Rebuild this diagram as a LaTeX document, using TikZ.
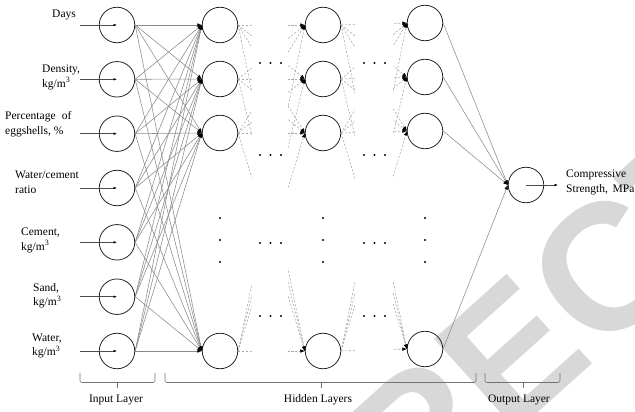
\documentclass[tikz,border=0pt]{standalone}
\usepackage{fontspec}
\setmainfont{Liberation Serif}
\newfontfamily\wmfont{Liberation Sans}
\usetikzlibrary{arrows.meta}
\definecolor{linkgray}{HTML}{8A8A8A}
\definecolor{dashgray}{HTML}{A8A8A8}
\definecolor{markgray}{HTML}{D8D8D8}
\begin{document}
\begin{tikzpicture}[x=1pt,y=-1pt,
  neuron/.style={circle,draw=black!85,line width=0.8pt,minimum size=35.5pt,inner sep=0pt},
  lbl/.style={anchor=west,inner sep=0pt,align=left,font=\fontsize{11.5}{14.5}\selectfont},
  layerlbl/.style={inner sep=0pt,font=\fontsize{11.5}{14}\selectfont},
  tip/.style={-{Latex[length=4.5pt,width=3.6pt,color=black]}},
  smalltip/.style={-{Latex[length=3.5pt,width=2.6pt,color=black]}},
  link/.style={draw=linkgray,line width=0.55pt,tip},
  dlink/.style={draw=dashgray,line width=0.55pt,dash pattern=on 2.2pt off 1.6pt,tip},
  feed/.style={draw=black!70,line width=0.6pt,smalltip},
  brace/.style={draw=black!55,line width=0.6pt,rounded corners=2pt},
  dot/.style={circle,fill=black,inner sep=0pt,minimum size=2.2pt},
  wmtext/.style={text=markgray,font=\wmfont\bfseries\fontsize{180}{180}\selectfont,rotate=42,inner sep=0pt}
]
\useasboundingbox (0,0) rectangle (635,412);

% background watermark lettering
\begin{scope}
  \clip (0,0) rectangle (635,412);
  \node[wmtext] (wm) at (553,316) {RECT};
\end{scope}

% input layer
\foreach \i/\y in {1/25,2/79.3,3/133.7,4/188,5/242.3,6/296.7,7/351}{
  \node[neuron] (i\i) at (117,\y) {};
  \coordinate (f\i) at (80,\y);
  \draw[feed] (f\i) -- (i\i.center);
}

% hidden layers
\foreach \k/\y in {1/25,2/79,3/133,4/351}{
  \node[neuron] (a\k) at (220,\y) {};
  \node[neuron] (b\k) at (323,\y) {};
}
\foreach \k/\y in {1/23,2/77,3/131,4/349}{
  \node[neuron] (c\k) at (425,\y) {};
}

% output layer
\node[neuron] (out) at (526,185) {};
\coordinate (res) at (558,185);
\draw[feed] (out.center) -- (res);

% input -> first hidden layer
\foreach \i in {1,...,7}{
  \foreach \k in {1,...,4}{
    \draw[link] (i\i.east) -- (a\k.west);
  }
}

% last hidden layer -> output
\foreach \k in {1,...,4}{
  \draw[link] (c\k.east) -- (out.west);
}

% interrupted links between the hidden layers
\begin{scope}
  \clip (230,0) rectangle (251.5,412);
  \foreach \k in {1,...,4}{\foreach \m in {1,...,4}{\draw[dlink] (a\k.east) -- (b\m.west);}}
\end{scope}
\begin{scope}
  \clip (288,0) rectangle (315,412);
  \foreach \k in {1,...,4}{\foreach \m in {1,...,4}{\draw[dlink] (a\k.east) -- (b\m.west);}}
\end{scope}
\begin{scope}
  \clip (333,0) rectangle (355,412);
  \foreach \k in {1,...,4}{\foreach \m in {1,...,4}{\draw[dlink] (b\k.east) -- (c\m.west);}}
\end{scope}
\begin{scope}
  \clip (393,0) rectangle (417,412);
  \foreach \k in {1,...,4}{\foreach \m in {1,...,4}{\draw[dlink] (b\k.east) -- (c\m.west);}}
\end{scope}

% vertical ellipses
\foreach \x/\n in {220/a,323/b,425/c}{
  \foreach \y/\j in {218/1,240/2,262/3}{
    \node[dot] (v\n\j) at (\x,\y) {};
  }
}
% horizontal ellipses
\foreach \y/\r in {63/1,155/2,243/3,316/4}{
  \foreach \x/\j in {260/1,270.5/2,281/3}{\node[dot] (p\r\j) at (\x,\y) {};}
  \foreach \x/\j in {364/1,374.5/2,385/3}{\node[dot] (q\r\j) at (\x,\y) {};}
}

% input labels
\node[lbl] (t1) at (52,15) {Days};
\node[lbl] (t2) at (42,77.5) {Density,\\kg/m\textsuperscript{3}};
\node[lbl] (t3) at (5,124) {Percentage\hspace{0.55em}of\\eggshells, \%};
\node[lbl] (t4) at (15,182.5) {Water/cement\\ratio};
\node[lbl] (t5) at (21,240.5) {Cement,\\kg/m\textsuperscript{3}};
\node[lbl] (t6) at (33,295.5) {Sand,\\kg/m\textsuperscript{3}};
\node[lbl] (t7) at (32,346) {Water,\\kg/m\textsuperscript{3}};
\node[lbl] (t8) at (566,182.5) {Compressive\\Strength,\hspace{0.4em}MPa};

% layer brackets
\draw[brace] (80,373) -- (80,382.5) -- (155,382.5) -- (155,373);
\draw[brace] (117,382.5) -- (117,388);
\draw[brace] (165,373) -- (165,382.5) -- (476,382.5) -- (476,373);
\draw[brace] (321,382.5) -- (321,388);
\draw[brace] (485,373) -- (485,382.5) -- (560,382.5) -- (560,373);
\draw[brace] (523,382.5) -- (523,388);
\node[layerlbl] (L1) at (116,400) {Input Layer};
\node[layerlbl] (L2) at (318,400) {Hidden Layers};
\node[layerlbl] (L3) at (519,400) {Output Layer};
\end{tikzpicture}
\end{document}
